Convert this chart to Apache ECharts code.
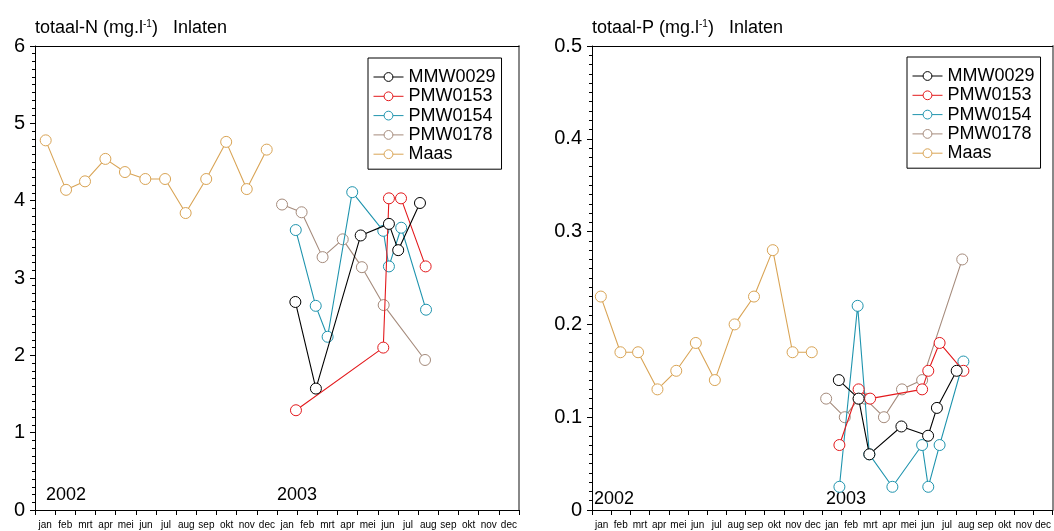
<!DOCTYPE html>
<html>
<head>
<meta charset="utf-8">
<script src="https://cdn.jsdelivr.net/npm/echarts@6/dist/echarts.min.js"></script>
<style>
html,body{margin:0;padding:0;background:#fff;}
#chart{width:1054px;height:531px;}
</style>
</head>
<body>
<div id="chart"></div>
<script>
// ---- data ----
const months = ['jan','feb','mrt','apr','mei','jun','jul','aug','sep','okt','nov','dec'];
const monthLabels = months.concat(months); // 2002 + 2003
const seriesNames = ['MMW0029','PMW0153','PMW0154','PMW0178','Maas'];
const seriesColors = ['#000000','#e3191c','#1f94ae','#a58b7c','#d9a455'];

// x = position in months since 1 Jan 2002 (sampling date), y = concentration
// totaal-N
const nMMW0029X = [12.91,13.93,16.15,17.55,18.01,19.09];
const nMMW0029Y = [2.69,1.57,3.55,3.70,3.36,3.97];
const nPMW0153X = [12.94,17.27,17.55,18.15,19.37];
const nPMW0153Y = [1.29,2.10,4.03,4.03,3.15];
const nPMW0154X = [12.93,13.92,14.51,15.73,17.27,17.55,18.16,19.39];
const nPMW0154Y = [3.62,2.64,2.24,4.11,3.61,3.15,3.65,2.59];
const nPMW0178X = [12.25,13.22,14.26,15.26,16.21,17.29,19.34];
const nPMW0178Y = [3.95,3.85,3.27,3.50,3.14,2.65,1.94];
const nMaasX = [0.53,1.54,2.48,3.49,4.46,5.47,6.45,7.47,8.49,9.48,10.50,11.49];
const nMaasY = [4.78,4.14,4.25,4.54,4.37,4.28,4.28,3.84,4.28,4.76,4.15,4.66];

// totaal-P
const pMMW0029X = [12.86,13.89,14.45,16.12,17.51,17.97,19.00];
const pMMW0029Y = [0.14,0.12,0.06,0.09,0.08,0.11,0.15];
const pPMW0153X = [12.89,13.89,14.49,17.20,17.52,18.11,19.35];
const pPMW0153Y = [0.07,0.13,0.12,0.13,0.15,0.18,0.15];
const pPMW0154X = [12.89,13.84,14.45,15.65,17.20,17.52,18.11,19.35];
const pPMW0154Y = [0.025,0.22,0.06,0.025,0.07,0.025,0.07,0.16];
const pPMW0178X = [12.20,13.17,13.89,14.23,15.21,16.15,17.20,19.29];
const pPMW0178Y = [0.12,0.10,0.12,0.12,0.10,0.13,0.14,0.27];
const pMaasX = [0.46,1.48,2.40,3.41,4.39,5.41,6.40,7.43,8.44,9.42,10.45,11.45];
const pMaasY = [0.23,0.17,0.17,0.13,0.15,0.18,0.14,0.20,0.23,0.28,0.17,0.17];

const nTicks = {min:0, max:6, interval:1};
const pTicks = {min:0, max:0.5, interval:0.1};
const yearLabels = ['2002','2003'];

// ---- build ----
const FONT = 'Liberation Sans, Arial, sans-serif';
const pairs = (xs, ys) => xs.map((x, i) => [x, ys[i]]);
const nSets = [[nMMW0029X,nMMW0029Y],[nPMW0153X,nPMW0153Y],[nPMW0154X,nPMW0154Y],[nPMW0178X,nPMW0178Y],[nMaasX,nMaasY]];
const pSets = [[pMMW0029X,pMMW0029Y],[pPMW0153X,pPMW0153Y],[pPMW0154X,pPMW0154Y],[pPMW0178X,pPMW0178Y],[pMaasX,pMaasY]];

function catAxis(g){
  return {gridIndex:g, type:'category', data:monthLabels, position:'bottom', boundaryGap:true,
    axisLine:{onZero:false, lineStyle:{color:'#000', width:1}},
    axisTick:{show:true, interval:0, length:5, lineStyle:{color:'#000'}},
    axisLabel:{interval:0, fontSize:10, margin:10, color:'#000', fontFamily:FONT},
    splitLine:{show:false}};
}
function valX(g){
  return {gridIndex:g, type:'value', position:'top', min:0, max:24,
    axisLine:{show:true, onZero:false, lineStyle:{color:'#000', width:1}},
    axisTick:{show:false}, axisLabel:{show:false}, splitLine:{show:false}};
}
function valY(g, t, fmt){
  return {gridIndex:g, type:'value', position:'left', min:t.min, max:t.max, interval:t.interval,
    axisLine:{show:true, onZero:false, lineStyle:{color:'#000', width:1}},
    axisTick:{show:true, inside:false, length:5, lineStyle:{color:'#000'}},
    minorTick:{show:true, splitNumber:10, length:3, lineStyle:{color:'#000'}},
    axisLabel:{fontSize:20, margin:10, color:'#000', fontFamily:FONT, formatter:fmt},
    splitLine:{show:false}, minorSplitLine:{show:false}};
}
function rightY(g, t){
  return {gridIndex:g, type:'value', position:'right', min:t.min, max:t.max,
    axisLine:{show:true, onZero:false, lineStyle:{color:'#888', width:2}},
    axisTick:{show:false}, axisLabel:{show:false}, splitLine:{show:false}};
}

const series = [];
[nSets, pSets].forEach((sets, g) => {
  sets.forEach((s, i) => {
    series.push({
      name: seriesNames[i], type:'line',
      xAxisIndex: g*2+1, yAxisIndex: g*2,
      data: pairs(s[0], s[1]),
      symbol:'circle', symbolSize:11, showSymbol:true,
      lineStyle:{color:seriesColors[i], width:1.1},
      itemStyle:{color:'#ffffff', borderColor:seriesColors[i], borderWidth:1},
      emphasis:{disabled:true}, animation:false, z: 10 - i
    });
  });
});

function legend(left, top){
  return {left:left, top:top, orient:'vertical', data:seriesNames,
    borderColor:'#000', borderWidth:1, padding:[10,6,6,5],
    itemWidth:30, itemHeight:11, itemGap:1.3,
    itemStyle:{borderWidth:1, color:'#ffffff'},
    lineStyle:{width:1},
    textStyle:{fontSize:18, color:'#000', fontFamily:FONT, lineHeight:18},
    selectedMode:false};
}

const titleRich = {sup:{fontSize:10, color:'#000', fontFamily:FONT, verticalAlign:'top', padding:[0,0,8,0]}};

const option = {
  animation:false,
  backgroundColor:'#fff',
  textStyle:{fontFamily:FONT},
  title:[
    {text:'totaal-N (mg.l{sup|-1})   Inlaten', left:35, top:19, padding:0,
      textStyle:{fontSize:18, fontWeight:'normal', color:'#000', fontFamily:FONT, rich:titleRich}},
    {text:'totaal-P (mg.l{sup|-1})   Inlaten', left:592, top:19, padding:0,
      textStyle:{fontSize:18, fontWeight:'normal', color:'#000', fontFamily:FONT, rich:titleRich}}
  ],
  grid:[
    {left:35, top:46, width:484, height:464, containLabel:false},
    {left:592, top:46, width:466, height:464, containLabel:false}
  ],
  xAxis:[catAxis(0), valX(0), catAxis(1), valX(1)],
  yAxis:[valY(0, nTicks, v => String(v)), rightY(0, nTicks), valY(1, pTicks, v => String(Math.round(v*10)/10)), rightY(1, pTicks)],
  legend:[legend(368, 58), legend(907, 57)],
  graphic:[
    {type:'text', left:46, top:486, style:{text:yearLabels[0], font:'18px ' + FONT, fill:'#000'}},
    {type:'text', left:277, top:486, style:{text:yearLabels[1], font:'18px ' + FONT, fill:'#000'}},
    {type:'text', left:594, top:490, style:{text:yearLabels[0], font:'18px ' + FONT, fill:'#000'}},
    {type:'text', left:826, top:490, style:{text:yearLabels[1], font:'18px ' + FONT, fill:'#000'}}
  ],
  series: series
};

const chart = echarts.init(document.getElementById('chart'), null, {renderer:'canvas'});
chart.setOption(option);
</script>
</body>
</html>
